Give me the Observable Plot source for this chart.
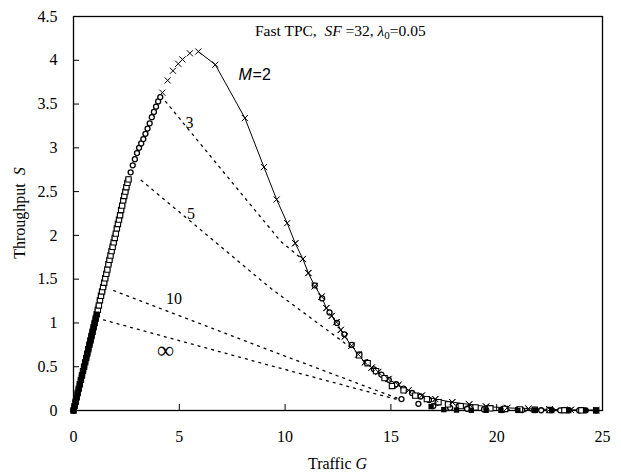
<!DOCTYPE html>
<html><head><meta charset="utf-8">
<script src="https://cdn.jsdelivr.net/npm/d3@7"></script>
<script src="https://cdn.jsdelivr.net/npm/@observablehq/plot@0.6"></script>
<style>body{margin:0;background:#fff} svg{display:block}</style>
</head><body><div id="chart"></div>
<script>
// ---- data ----
const xTicks = [0, 5, 10, 15, 20, 25];
const yTicks = [0, 0.5, 1, 1.5, 2, 2.5, 3, 3.5, 4, 4.5];

// common rising branch (all M)
const riseG = [0,0.05,0.1,0.15,0.2,0.25,0.3,0.35,0.4,0.45,0.5,0.55,0.6,0.65,0.7,0.75,0.8,0.85,0.9,0.95,1,1.05,1.1,1.15,1.2,1.25,1.3,1.35,1.4,1.45,1.5,1.55,1.6,1.65,1.7,1.75,1.8,1.85,1.9,1.95,2,2.05,2.1,2.15,2.2,2.25,2.3,2.35,2.4,2.45,2.5,2.55,2.6,2.7,2.8,2.9,3,3.1,3.2,3.3,3.4,3.5,3.6,3.7,3.8,3.9,4,4.1];
const riseS = [0,0.05,0.1,0.15,0.2,0.25,0.3,0.35,0.4,0.45,0.5,0.55,0.6,0.65,0.7,0.75,0.8,0.85,0.9,0.95,1,1.05,1.1,1.15,1.2,1.26,1.31,1.36,1.41,1.46,1.51,1.56,1.61,1.67,1.72,1.77,1.82,1.87,1.92,1.97,2.02,2.08,2.13,2.18,2.23,2.29,2.34,2.4,2.45,2.5,2.55,2.6,2.64,2.72,2.8,2.87,2.94,3,3.05,3.1,3.16,3.22,3.28,3.35,3.41,3.47,3.53,3.58];
// where each series leaves the rising branch
const riseEnd = {"3": 4.1, "5": 2.6, "10": 1.4, "inf": 1.1};

// M = 2 (crosses, solid line)
const m2G = [4.2,4.45,4.7,4.95,5.15,5.5,5.9,6.7,8.1,9.0,9.6,10.1,10.48,10.84,11.1,11.4,11.72,11.95,12.2,12.43,12.63,12.82,13.14,13.46,13.77,14.09,14.4,14.88,15.35,15.83,16.46,17.1,17.9,18.7,19.5,20.5,21.5,22.5,23.5,24.7];
const m2S = [3.63,3.77,3.88,3.96,4.01,4.08,4.1,3.95,3.34,2.78,2.41,2.14,1.91,1.73,1.57,1.42,1.3,1.17,1.08,1.01,0.92,0.845,0.74,0.64,0.55,0.49,0.44,0.36,0.29,0.23,0.17,0.13,0.095,0.07,0.045,0.03,0.02,0.012,0.008,0.005];
const m2PeakG = 5.9;

// M = 3 (circles)
const m3LineG = [4.35, 7.0, 9.8, 10.8];
const m3LineS = [3.53, 2.75, 1.93, 1.73];
const m3TailG = [11.4,11.75,12.1,12.45,12.8,13.15,13.5,13.85,14.2,14.55,14.9,15.25,15.6,16.0,16.4,16.8,17.2,17.7,18.2,18.8,19.5,20.3,21.0,21.8,22.6,23.4,24.2];
const m3TailS = [1.43,1.28,1.12,1.0,0.87,0.75,0.64,0.55,0.47,0.41,0.35,0.3,0.25,0.2,0.16,0.12,0.09,0.07,0.05,0.035,0.025,0.018,0.012,0.008,0.005,0.003,0.002];

// M = 5 (squares)
const m5LineG = [3.2, 9.35, 13.1];
const m5LineS = [2.63, 1.39, 0.72];
const m5TailG = [13.5,13.9,14.3,14.7,15.05,15.6,16.15,16.7,17.25,17.7,18.3,19.0,19.7,20.4,21.1,21.8,22.5,23.2,24.0,24.7];
const m5TailS = [0.63,0.54,0.45,0.37,0.28,0.23,0.17,0.13,0.095,0.07,0.05,0.035,0.025,0.018,0.012,0.008,0.005,0.003,0.002,0.001];

// M = 10 (circles)
const m10LineG = [1.9, 9.35, 15.3];
const m10LineS = [1.37, 0.68, 0.14];
const m10TailG = [15.5,16.3,17.0,17.8,18.6,19.4,20.3,21.2,22.1,23.0,23.9,24.7];
const m10TailS = [0.13,0.076,0.05,0.03,0.02,0.012,0.008,0.005,0.003,0.002,0.001,0.001];

// M = infinity (filled squares)
const mInfLineG = [1.42, 9.35, 14.6, 15.4];
const mInfLineS = [1.035, 0.51, 0.17, 0.12];
const mInfTailG = [16.9,17.5,18.1,18.8,19.5,20.2,21.0,21.8,22.6,23.4,24.2,24.7];
const mInfTailS = [0.045,0.01,0.005,0.003,0.002,0.001,0.001,0,0,0,0,0];

// curve labels
const labelText = ["3", "5", "10"];
const labelG = [5.48, 5.55, 4.75];
const labelS = [3.29, 2.25, 1.28];
const infLabel = {text: "\u221E", G: 4.35, S: 0.69};
const m2Label = {G: 7.8, S: 3.83};

// ---- build ----
const pts = (G, S) => G.map((g, i) => ({G: g, S: S[i]}));
const rise = pts(riseG, riseS);
const riseUpTo = (g) => rise.filter(d => d.G <= g + 1e-9);
const m2 = pts(m2G, m2S);

const serif = "'Liberation Serif', 'Times New Roman', serif";
const sans = "'Liberation Sans', Arial, sans-serif";
const dotted = {x: "G", y: "S", stroke: "black", strokeWidth: 1.3, strokeDasharray: "2,5"};
const openSq = {x: "G", y: "S", symbol: "square", r: 3, fill: "white", stroke: "black", strokeWidth: 1.1};
const openCi = {x: "G", y: "S", symbol: "circle", r: 2.5, fill: "white", stroke: "black", strokeWidth: 1.3};
const filledSq = {x: "G", y: "S", symbol: "square", r: 3, fill: "black"};
const cross = {x: "G", y: "S", symbol: "times", r: 2.9, stroke: "black", strokeWidth: 1};

const W = 621, H = 473, mL = 73, mR = 19, mT = 16, mB = 63;

const chart = Plot.plot({
  width: W, height: H,
  marginLeft: mL, marginRight: mR, marginTop: mT, marginBottom: mB,
  style: {background: "white", color: "black"},
  x: {domain: [0, 25]},
  y: {domain: [0, 4.5]},
  marks: [
    Plot.frame({stroke: "black", strokeWidth: 1.3}),
    Plot.axisX({ticks: xTicks, tickSize: -6, tickPadding: 26, tickFormat: d => String(d), label: null,
                fontFamily: serif, fontSize: 16, stroke: "black", fill: "black"}),
    Plot.axisY({ticks: yTicks, tickSize: -6, tickPadding: 22, tickFormat: d => String(d), label: null,
                fontFamily: serif, fontSize: 16, stroke: "black", fill: "black"}),
    // lines
    Plot.line(m2.filter(d => d.G >= m2PeakG), {x: "G", y: "S", stroke: "black", strokeWidth: 1}),
    Plot.line(pts(m3LineG, m3LineS), dotted),
    Plot.line(pts(m5LineG, m5LineS), dotted),
    Plot.line(pts(m10LineG, m10LineS), dotted),
    Plot.line(pts(mInfLineG, mInfLineS), dotted),
    // markers
    Plot.dot(m2, cross),
    Plot.dot(riseUpTo(riseEnd["3"]), openCi),
    Plot.dot(pts(m3TailG, m3TailS), openCi),
    Plot.dot(riseUpTo(riseEnd["10"]), openCi),
    Plot.dot(pts(m10TailG, m10TailS), openCi),
    Plot.dot(riseUpTo(riseEnd["5"]), openSq),
    Plot.dot(pts(m5TailG, m5TailS), openSq),
    Plot.dot(riseUpTo(riseEnd["inf"]), filledSq),
    Plot.dot(pts(mInfTailG, mInfTailS), filledSq),
    Plot.dot(m2.filter(d => d.G >= 10.3), cross),
    // labels
    Plot.text(labelText, {x: (d, i) => labelG[i], y: (d, i) => labelS[i], text: d => d, fontFamily: serif, fontSize: 16, fill: "black"}),
    Plot.text([infLabel], {x: "G", y: "S", text: "text", fontFamily: serif, fontSize: 24, fill: "black"}),
    Plot.text([m2Label], {x: "G", y: "S", text: () => "M", fontFamily: sans, fontStyle: "italic", fontSize: 16, textAnchor: "start", fill: "black"}),
    Plot.text([m2Label], {x: "G", y: "S", text: () => "=2", fontFamily: sans, fontSize: 16, textAnchor: "start", dx: 14, fill: "black"})
  ]
});

const svg = d3.select(chart);
// title
const t = svg.append("text").attr("x", 255).attr("y", 36).attr("text-anchor", "start")
  .attr("font-family", serif).attr("font-size", 15.5).attr("fill", "black");
t.append("tspan").text("Fast TPC,  ");
t.append("tspan").attr("font-style", "italic").text("SF");
t.append("tspan").text(" =32, ");
t.append("tspan").attr("font-style", "italic").text("\u03BB");
t.append("tspan").attr("font-size", 11).attr("dy", 3).text("0");
t.append("tspan").attr("dy", -3).text("=0.05");

// axis titles
const xt = svg.append("text").attr("x", mL + (W - mL - mR) / 2).attr("y", 469)
  .attr("text-anchor", "middle").attr("font-family", serif).attr("font-size", 16).attr("fill", "black");
xt.append("tspan").text("Traffic ");
xt.append("tspan").attr("font-style", "italic").text("G");

const yt = svg.append("text").attr("transform", `translate(25,${mT + (H - mT - mB) / 2}) rotate(-90)`)
  .attr("text-anchor", "middle").attr("font-family", serif).attr("font-size", 16).attr("fill", "black");
yt.append("tspan").text("Throughput  ");
yt.append("tspan").attr("font-style", "italic").text("S");

document.getElementById("chart").appendChild(chart);
</script>
</body></html>
